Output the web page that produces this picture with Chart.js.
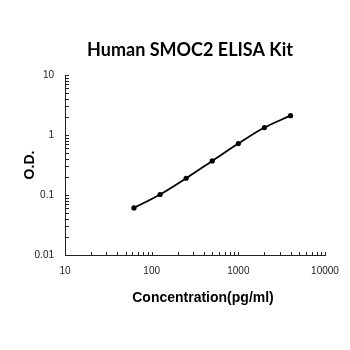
<!DOCTYPE html>
<html>
<head>
<meta charset="utf-8">
<script src="https://cdn.jsdelivr.net/npm/chart.js@4/dist/chart.umd.min.js"></script>
<style>
  html, body { margin: 0; padding: 0; background: #fff; }
  #wrap { width: 350px; height: 350px; }
</style>
</head>
<body>
<div id="wrap"><canvas id="c" width="350" height="350"></canvas></div>
<script>
// Standard curve: concentration (pg/ml) vs optical density
const concentration = [62.5, 125, 250, 500, 1000, 2000, 4000];
const opticalDensity = [0.061, 0.102, 0.19, 0.37, 0.72, 1.33, 2.1];

// Labelled decades on each axis
const xTickLabels = [10, 100, 1000, 10000];
const yTickLabels = [0.01, 0.1, 1, 10];
// Unlabelled minor marks inside each decade
const minorSteps = [2, 3, 4, 5, 6, 7, 8, 9];

const chartTitle = 'Human SMOC2 ELISA Kit';
const xTitle = 'Concentration(pg/ml)';
const yTitle = 'O.D.';

function decadeTicks(majors) {
  const out = [];
  majors.forEach((m, i) => {
    out.push({ value: m, major: true });
    if (i < majors.length - 1) minorSteps.forEach(s => out.push({ value: m * s, major: false }));
  });
  return out;
}

// Short inward tick marks along the left and bottom axes
const inwardTicks = {
  id: 'inwardTicks',
  afterDraw(chart) {
    const ctx = chart.ctx;
    const xs = chart.scales.x, ys = chart.scales.y;
    const area = chart.chartArea;
    ctx.save();
    ctx.strokeStyle = '#222';
    ctx.lineWidth = 1;
    ctx.beginPath();
    xs.ticks.forEach(t => {
      const px = Math.round(xs.getPixelForValue(t.value)) + 0.5;
      ctx.moveTo(px, area.bottom);
      ctx.lineTo(px, area.bottom - 3);
    });
    ys.ticks.forEach(t => {
      const py = Math.round(ys.getPixelForValue(t.value)) + 0.5;
      ctx.moveTo(area.left, py);
      ctx.lineTo(area.left + 4, py);
    });
    ctx.stroke();
    ctx.restore();
  }
};

// Chart heading and horizontal axis caption
const captions = {
  id: 'captions',
  afterDraw(chart) {
    const ctx = chart.ctx;
    const area = chart.chartArea;
    ctx.save();
    ctx.fillStyle = '#000';
    ctx.textAlign = 'center';
    ctx.textBaseline = 'middle';
    ctx.font = 'bold 18px Lato';
    ctx.fillText(chartTitle, area.left + 125, 50);
    ctx.font = 'bold 14px "Liberation Sans", Arial, sans-serif';
    ctx.fillText(xTitle, area.left + 138, 298);
    ctx.restore();
  }
};

const tickFont = { family: '"Liberation Sans", Arial, sans-serif', size: 10 };

new Chart(document.getElementById('c'), {
  type: 'scatter',
  data: {
    datasets: [{
      data: concentration.map((c, i) => ({ x: c, y: opticalDensity[i] })),
      showLine: true,
      cubicInterpolationMode: 'monotone',
      borderColor: '#000',
      borderWidth: 1.8,
      backgroundColor: '#000',
      pointRadius: 2.6,
      pointHoverRadius: 2.6,
      pointBorderWidth: 0
    }]
  },
  options: {
    responsive: false,
    animation: false,
    events: [],
    layout: { padding: { left: 0, right: 25, top: 75, bottom: 0 } },
    plugins: {
      legend: { display: false },
      tooltip: { enabled: false },
      title: { display: false }
    },
    scales: {
      x: {
        type: 'logarithmic',
        min: 10, max: 10000,
        afterFit(s) { s.height = 95; },
        afterBuildTicks(s) { s.ticks = decadeTicks(xTickLabels); },
        grid: { display: false, drawTicks: false },
        border: { display: true, color: '#222', width: 1 },
        ticks: {
          autoSkip: false, maxRotation: 0, padding: 10,
          color: '#222', font: tickFont,
          callback: (v) => xTickLabels.includes(v) ? String(v) : ''
        },
        title: { display: false }
      },
      y: {
        type: 'logarithmic',
        min: 0.01, max: 10,
        afterFit(s) { s.width = 65; },
        afterBuildTicks(s) { s.ticks = decadeTicks(yTickLabels); },
        grid: { display: false, drawTicks: false },
        border: { display: true, color: '#222', width: 1 },
        ticks: {
          autoSkip: false, padding: 11,
          color: '#222', font: tickFont,
          callback: (v) => yTickLabels.includes(v) ? String(v) : ''
        },
        title: {
          display: true, text: yTitle, color: '#000',
          font: { family: '"Liberation Sans", Arial, sans-serif', size: 14, weight: 'bold' },
          padding: { top: 22, bottom: 0 }
        }
      }
    }
  },
  plugins: [inwardTicks, captions]
});
</script>
</body>
</html>
